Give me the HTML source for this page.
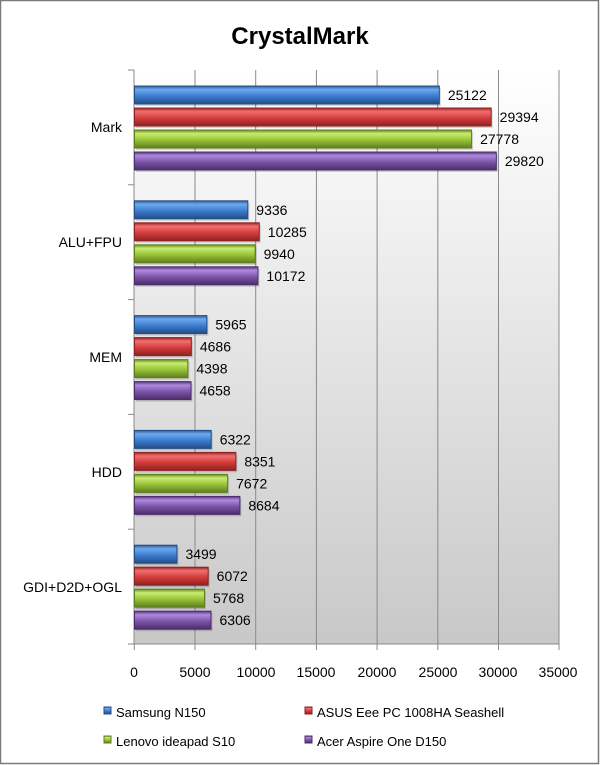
<!DOCTYPE html>
<html><head><meta charset="utf-8"><style>
html,body{margin:0;padding:0;background:#fff}
svg{display:block;font-family:"Liberation Sans",sans-serif}
</style></head><body>
<svg width="600" height="765" viewBox="0 0 600 765" xmlns="http://www.w3.org/2000/svg">
<defs>
<linearGradient id="bg" x1="0" y1="0" x2="0" y2="1"><stop offset="0" stop-color="#ffffff"/><stop offset="1" stop-color="#c8c8c8"/></linearGradient>
<linearGradient id="gb" x1="0" y1="0" x2="0" y2="1"><stop offset="0" stop-color="#2f5f9e"/><stop offset="0.2" stop-color="#6ea8ee"/><stop offset="0.55" stop-color="#3b7dd0"/><stop offset="1" stop-color="#244d85"/></linearGradient>
<linearGradient id="gr" x1="0" y1="0" x2="0" y2="1"><stop offset="0" stop-color="#a02525"/><stop offset="0.2" stop-color="#f07070"/><stop offset="0.55" stop-color="#d63c3c"/><stop offset="1" stop-color="#8e2222"/></linearGradient>
<linearGradient id="gg" x1="0" y1="0" x2="0" y2="1"><stop offset="0" stop-color="#6a8d20"/><stop offset="0.2" stop-color="#c8ec70"/><stop offset="0.55" stop-color="#99c43a"/><stop offset="1" stop-color="#5f7f1d"/></linearGradient>
<linearGradient id="gp" x1="0" y1="0" x2="0" y2="1"><stop offset="0" stop-color="#56377a"/><stop offset="0.2" stop-color="#b08ae0"/><stop offset="0.55" stop-color="#7d55a8"/><stop offset="1" stop-color="#4a2e6a"/></linearGradient>
</defs>
<rect x="0.5" y="0.5" width="598" height="763" fill="#fff" stroke="#7a7a7a" stroke-width="1.5"/>
<text x="300" y="44" text-anchor="middle" font-size="24" font-weight="bold" fill="#000">CrystalMark</text>
<rect x="134" y="70" width="425" height="574" fill="url(#bg)"/>
<g stroke="#8a8a8a" stroke-width="1">
<line x1="195" y1="70" x2="195" y2="644"/><line x1="255.7" y1="70" x2="255.7" y2="644"/>
<line x1="316.4" y1="70" x2="316.4" y2="644"/><line x1="377.1" y1="70" x2="377.1" y2="644"/>
<line x1="437.8" y1="70" x2="437.8" y2="644"/><line x1="498.5" y1="70" x2="498.5" y2="644"/>
<line x1="559" y1="70" x2="559" y2="644"/>
<line x1="134" y1="70" x2="134" y2="644"/><line x1="134" y1="644" x2="559" y2="644"/>
<line x1="128" y1="70" x2="134" y2="70"/><line x1="128" y1="184.8" x2="134" y2="184.8"/>
<line x1="128" y1="299.6" x2="134" y2="299.6"/><line x1="128" y1="414.4" x2="134" y2="414.4"/>
<line x1="128" y1="529.2" x2="134" y2="529.2"/><line x1="128" y1="644" x2="134" y2="644"/>
<line x1="134.3" y1="644" x2="134.3" y2="650"/><line x1="195" y1="644" x2="195" y2="650"/><line x1="255.7" y1="644" x2="255.7" y2="650"/><line x1="316.4" y1="644" x2="316.4" y2="650"/><line x1="377.1" y1="644" x2="377.1" y2="650"/><line x1="437.8" y1="644" x2="437.8" y2="650"/><line x1="498.5" y1="644" x2="498.5" y2="650"/><line x1="559" y1="644" x2="559" y2="650"/>
</g>
<g font-size="14" fill="#000" text-anchor="middle">
<text x="134" y="677">0</text><text x="195" y="677">5000</text><text x="256" y="677">10000</text><text x="316" y="677">15000</text><text x="377" y="677">20000</text><text x="438" y="677">25000</text><text x="498" y="677">30000</text><text x="558" y="677">35000</text>
</g>
<g font-size="14" fill="#000" text-anchor="end">
<text x="122" y="132">Mark</text><text x="122" y="247">ALU+FPU</text><text x="122" y="362">MEM</text><text x="122" y="477">HDD</text><text x="122" y="592">GDI+D2D+OGL</text>
</g>
<g id="bars" font-size="14" fill="#000"></g>
<g font-size="13" fill="#000">
<rect x="104" y="707" width="7" height="7" fill="url(#gb)" stroke="#244d85"/><text x="116" y="717">Samsung N150</text>
<rect x="305" y="707" width="7" height="7" fill="url(#gr)" stroke="#8e2222"/><text x="317" y="717">ASUS Eee PC 1008HA Seashell</text>
<rect x="104" y="736" width="7" height="7" fill="url(#gg)" stroke="#5f7f1d"/><text x="116" y="746">Lenovo ideapad S10</text>
<rect x="305" y="736" width="7" height="7" fill="url(#gp)" stroke="#4a2e6a"/><text x="317" y="746">Acer Aspire One D150</text>
</g>
</svg>
<script>
var d=[[25122,29394,27778,29820],[9336,10285,9940,10172],[5965,4686,4398,4658],[6322,8351,7672,8684],[3499,6072,5768,6306]];
var f=["gb","gr","gg","gp"],st=["#244d85","#8e2222","#5f7f1d","#4a2e6a"];
var g=document.getElementById("bars"),h="";
for(var i=0;i<5;i++)for(var s=0;s<4;s++){var v=d[i][s],w=v*424.7/35000,y=70+114.8*i+16+22*s;
h+='<rect x="136" y="'+(y+2)+'" width="'+w+'" height="18" fill="#000" opacity="0.15"/>';
h+='<rect x="134.5" y="'+y+'" width="'+w+'" height="18" fill="url(#'+f[s]+')" stroke="'+st[s]+'" stroke-width="1"/>';
h+='<text x="'+(134+w+9)+'" y="'+(y+14)+'">'+v+'</text>';}
g.innerHTML=h;
</script>
</body></html>
